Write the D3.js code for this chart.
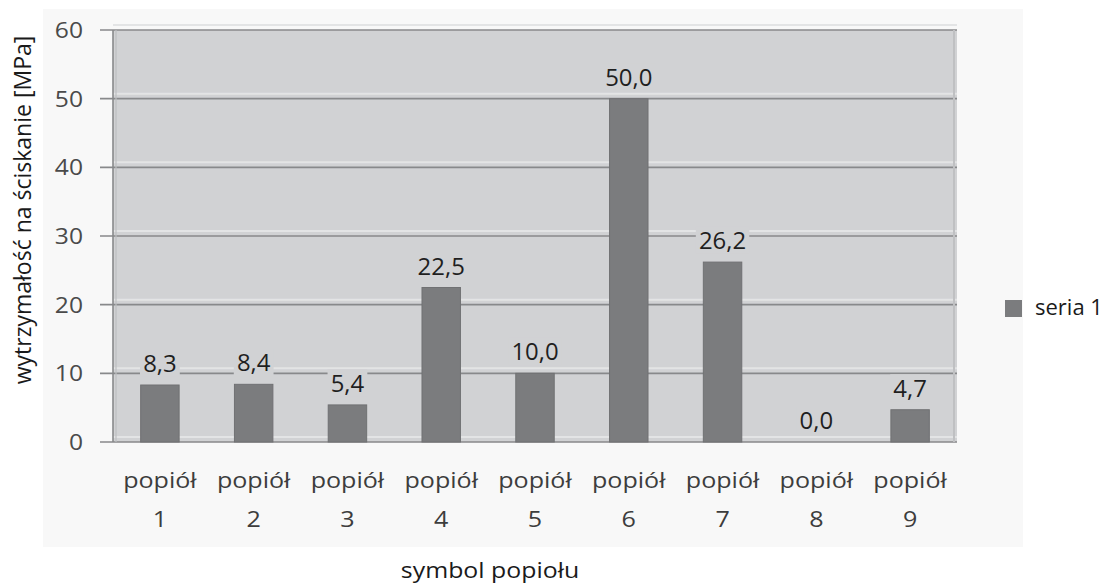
<!DOCTYPE html>
<html>
<head>
<meta charset="utf-8">
<script src="https://cdn.jsdelivr.net/npm/d3@7"></script>
<style>
  html, body { margin: 0; padding: 0; background: #ffffff; }
  svg { display: block; }
</style>
</head>
<body>
<svg id="chart" width="1106" height="584"></svg>
<script>
// Compressive strength per ash sample
const categories = ["popiół 1", "popiół 2", "popiół 3", "popiół 4", "popiół 5",
                    "popiół 6", "popiół 7", "popiół 8", "popiół 9"];
const values = [8.3, 8.4, 5.4, 22.5, 10.0, 50.0, 26.2, 0.0, 4.7];
const yTicks = [0, 10, 20, 30, 40, 50, 60];
const seriesName = "seria 1";
const yTitle = "wytrzymałość na ściskanie [MPa]";
const xTitle = "symbol popiołu";

const svg = d3.select("#chart");
const plot = { left: 113, right: 957, top: 30, bottom: 442 };
const fontFamily = "'Open Sans', 'Noto Sans', sans-serif";
const plotFill = "#d1d2d4";
const barFill = "#7b7c7e";

// horizontally widened text, anchored at (x, y)
function wideText(parent, x, y, str, opts) {
  const g = parent.append("g")
    .attr("transform", `translate(${x},${y}) scale(${opts.sx || 1},1)`);
  const t = g.append("text")
    .attr("x", 0).attr("y", 0)
    .attr("text-anchor", opts.anchor || "middle")
    .attr("dominant-baseline", opts.baseline || "auto")
    .attr("font-family", fontFamily)
    .attr("font-size", opts.size)
    .attr("fill", opts.fill)
    .text(str);
  return { g, t };
}

// outer frame background
svg.append("rect")
  .attr("x", 43).attr("y", 9)
  .attr("width", 980).attr("height", 538)
  .attr("fill", "#f8f8f8");

const x = d3.scaleBand()
  .domain(categories)
  .range([plot.left, plot.right])
  .paddingInner(0.59)
  .paddingOuter(0.295);

const y = d3.scaleLinear()
  .domain([0, 60])
  .range([plot.bottom, plot.top]);

// plot area
svg.append("rect")
  .attr("x", plot.left).attr("y", plot.top)
  .attr("width", plot.right - plot.left)
  .attr("height", plot.bottom - plot.top)
  .attr("fill", plotFill);

// gridlines: dark line with a light highlight just above
const grid = svg.append("g");
yTicks.forEach(t => {
  grid.append("line")
    .attr("x1", plot.left).attr("x2", plot.right)
    .attr("y1", y(t) - 5).attr("y2", y(t) - 5)
    .attr("stroke", "#e3e4e5").attr("stroke-width", 2);
  grid.append("line")
    .attr("x1", plot.left - 13).attr("x2", plot.right)
    .attr("y1", y(t)).attr("y2", y(t))
    .attr("stroke", "#88898b").attr("stroke-width", 1.6);
});

// right border of plot area
svg.append("line")
  .attr("x1", plot.right - 3).attr("x2", plot.right - 3)
  .attr("y1", plot.top).attr("y2", plot.bottom)
  .attr("stroke", "#bfc0c2").attr("stroke-width", 2);

// bars
svg.append("g").selectAll("rect")
  .data(values)
  .join("rect")
  .attr("x", (d, i) => x(categories[i]))
  .attr("y", d => y(d))
  .attr("width", x.bandwidth())
  .attr("height", d => y(0) - y(d))
  .attr("fill", barFill)
  .attr("stroke", "#707173")
  .attr("stroke-width", 1);

// left axis line
svg.append("line")
  .attr("x1", plot.left).attr("x2", plot.left)
  .attr("y1", plot.top).attr("y2", plot.bottom)
  .attr("stroke", "#88898b").attr("stroke-width", 1.6);
svg.append("line")
  .attr("x1", plot.left + 3).attr("x2", plot.left + 3)
  .attr("y1", plot.top).attr("y2", plot.bottom)
  .attr("stroke", "#bdbec0").attr("stroke-width", 1.2);

// y axis tick labels
const gy = svg.append("g");
yTicks.forEach(t => {
  wideText(gy, plot.left - 30, y(t) + 8, d3.format("d")(t),
    { size: 22, sx: 1.12, anchor: "end", fill: "#4a4a4a" });
});

// x axis category labels (two lines each)
const gx = svg.append("g");
categories.forEach(c => {
  const parts = c.split(" ");
  const cx = x(c) + x.bandwidth() / 2;
  wideText(gx, cx, 488, parts[0], { size: 22, sx: 1.14, fill: "#3d3d3d" });
  wideText(gx, cx, 527, parts[1], { size: 22, sx: 1.14, fill: "#3d3d3d" });
});

// value labels with a background that masks the gridlines
const fmt = v => d3.format(".1f")(v).replace(".", ",");
const lbl = svg.append("g");
values.forEach((v, i) => {
  const cx = x(categories[i]) + x.bandwidth() / 2;
  const { g, t } = wideText(lbl, cx, y(v) - 13, fmt(v),
    { size: 23, sx: 1.04, fill: "#1f1f1f" });
  const bb = t.node().getBBox();
  g.insert("rect", "text")
    .attr("x", bb.x - 3).attr("y", bb.y + 2)
    .attr("width", bb.width + 6).attr("height", bb.height - 4)
    .attr("fill", plotFill);
});

// axis titles
wideText(svg, 490, 578, xTitle, { size: 22, sx: 1.13, fill: "#1a1a1a" });

svg.append("text")
  .attr("transform", "translate(31,210) rotate(-90)")
  .attr("text-anchor", "middle")
  .attr("font-family", fontFamily)
  .attr("font-size", 23)
  .attr("fill", "#1a1a1a")
  .text(yTitle);

// legend
const legend = svg.append("g").attr("transform", "translate(1005,300)");
legend.append("rect")
  .attr("width", 17).attr("height", 17)
  .attr("fill", barFill);
wideText(legend, 30, 15, seriesName, { size: 22, sx: 1.0, anchor: "start", fill: "#1a1a1a" });
</script>
</body>
</html>
